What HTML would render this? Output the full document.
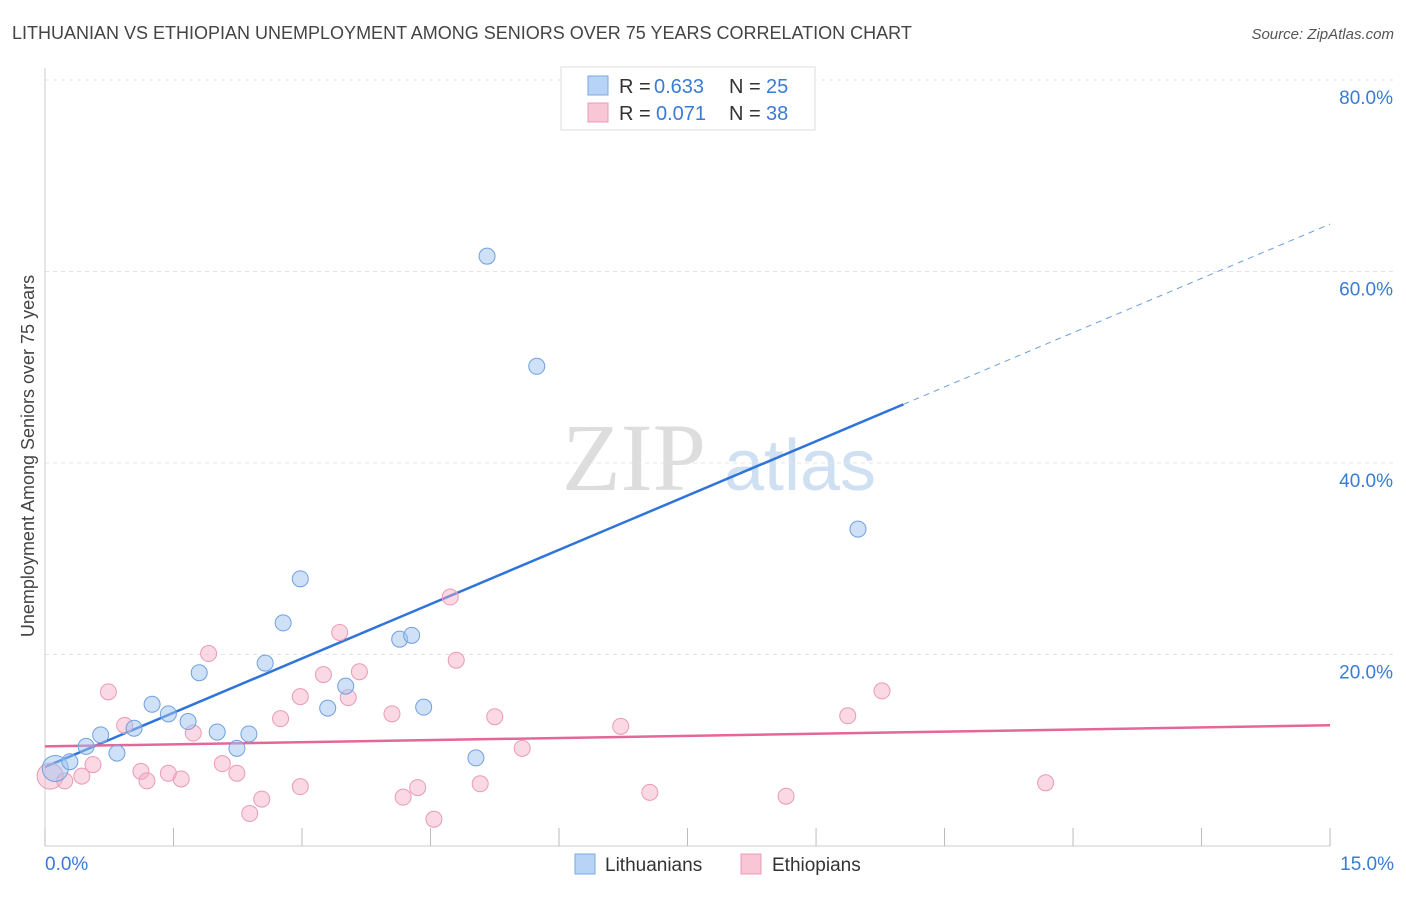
<!DOCTYPE html>
<html><head><meta charset="utf-8"><style>
body{margin:0;background:#fff;font-family:"Liberation Sans",sans-serif;}
</style></head><body>
<svg width="1406" height="892" xmlns="http://www.w3.org/2000/svg" id="chart">
<text x="12" y="39" font-size="18" fill="#444">LITHUANIAN VS ETHIOPIAN UNEMPLOYMENT AMONG SENIORS OVER 75 YEARS CORRELATION CHART</text>
<text x="1394" y="39" font-size="15" fill="#555" font-style="italic" text-anchor="end">Source: ZipAtlas.com</text>
<g>
<text x="634" y="490" font-size="96" fill="#ddd" font-family="Liberation Serif,serif" text-anchor="middle">ZIP</text>
<text x="800" y="490" font-size="72" fill="#cfe0f3" text-anchor="middle">atlas</text>
</g>
<g id="grid"></g>
<g id="axes"></g>
<g id="lines"></g>
<g id="points"></g>
<text transform="translate(34,456) rotate(-90)" font-size="18" fill="#444" text-anchor="middle">Unemployment Among Seniors over 75 years</text>
<g>
<rect x="561" y="67" width="254" height="63" fill="#fff" stroke="#ddd"/>
<rect x="588" y="76" width="20" height="19" fill="#b7d3f5" stroke="#7aa8e0"/>
<text x="619" y="93" font-size="20" fill="#333">R =</text>
<text x="654" y="93" font-size="20" fill="#3a7bd5">0.633</text>
<text x="729" y="93" font-size="20" fill="#333">N =</text>
<text x="766" y="93" font-size="20" fill="#3a7bd5">25</text>
<rect x="588" y="103" width="20" height="19" fill="#f9c6d6" stroke="#e99ab4"/>
<text x="619" y="120" font-size="20" fill="#333">R =</text>
<text x="656" y="120" font-size="20" fill="#3a7bd5">0.071</text>
<text x="729" y="120" font-size="20" fill="#333">N =</text>
<text x="766" y="120" font-size="20" fill="#3a7bd5">38</text>
</g>
<g>
<rect x="575" y="854" width="20" height="20" fill="#b7d3f5" stroke="#7aa8e0"/>
<text x="605" y="871" font-size="19" fill="#333">Lithuanians</text>
<rect x="741" y="854" width="20" height="20" fill="#f9c6d6" stroke="#e99ab4"/>
<text x="772" y="871" font-size="19" fill="#333">Ethiopians</text>
</g>
</svg>
<script>
const blueX=[0.12,0.29,0.48,0.65,0.84,1.04,1.25,1.44,1.67,1.80,2.01,2.24,2.38,2.57,2.78,2.98,3.30,3.51,4.14,4.28,4.42,5.03,5.16,5.74,9.49];
const blueY=[8.1,8.8,10.4,11.6,9.7,12.3,14.8,13.8,13.0,18.1,11.9,10.2,11.7,19.1,23.3,27.9,14.4,16.7,21.6,22.0,14.5,9.2,61.6,50.1,33.1];
const pinkX=[0.06,0.23,0.43,0.56,0.74,0.93,1.12,1.19,1.44,1.59,1.73,1.91,2.07,2.24,2.39,2.53,2.75,2.98,2.98,3.25,3.44,3.54,3.67,4.05,4.18,4.35,4.54,4.73,4.80,5.08,5.25,5.57,6.72,7.06,8.65,9.37,9.77,11.68];
const pinkY=[7.3,6.8,7.3,8.5,16.1,12.6,7.8,6.8,7.6,7.0,11.8,20.1,8.6,7.6,3.4,4.9,13.3,15.6,6.2,17.9,22.3,15.5,18.2,13.8,5.1,6.1,2.8,26.0,19.4,6.5,13.5,10.2,12.5,5.6,5.2,13.6,16.2,6.6];
const blueTrend=[8.25,3.78];
const pinkTrend=[10.4,0.147];
const yTicks=[20,40,60,80];
const yTickLabels=["20.0%","40.0%","60.0%","80.0%"];
const xTicks=[0,1.5,3,4.5,6,7.5,9,10.5,12,13.5,15];
const NS="http://www.w3.org/2000/svg";
const sx=v=>45+v*85.67, sy=v=>846-v*9.575;
function mk(tag,attrs,parent){const e=document.createElementNS(NS,tag);for(const k in attrs)e.setAttribute(k,attrs[k]);document.getElementById(parent).appendChild(e);return e;}
yTicks.forEach((t,i)=>{
 const g=mk('line',{x1:45,x2:1394,y1:sy(t),y2:sy(t),stroke:'#e4e4e4','stroke-dasharray':'4,4'},'grid');
 
 
 const l=mk('text',{x:1393,y:sy(t)+24,'font-size':19,fill:'#3a7bd5','text-anchor':'end'},'grid');l.textContent=yTickLabels[i];
 
 
});
mk('line',{x1:45,x2:45,y1:68,y2:846,stroke:'#ccc'},'axes');
mk('line',{x1:45,x2:1330,y1:846,y2:846,stroke:'#ccc'},'axes');
xTicks.forEach(t=>{const e=mk('line',{x1:sx(t),x2:sx(t),y1:828,y2:846,stroke:'#bbb'},'axes');
 
 });
let a=mk('text',{x:45,y:870,'font-size':19,fill:'#3a7bd5'},'axes');a.textContent='0.0%';


a=mk('text',{x:1394,y:870,'font-size':19,fill:'#3a7bd5','text-anchor':'end'},'axes');a.textContent='15.0%';


pinkX.forEach((x,i)=>{const c=mk('circle',{cx:sx(x),cy:sy(pinkY[i]),r:i==0?13:8,fill:'rgba(245,170,195,0.45)',stroke:'#eb9ab5','stroke-width':1},'points');
 
 });
blueX.forEach((x,i)=>{const c=mk('circle',{cx:sx(x),cy:sy(blueY[i]),r:i==0?13:8,fill:'rgba(160,195,240,0.5)',stroke:'#6fa0e0','stroke-width':1},'points');
 
 });
let ln=mk('line',{x1:sx(0),y1:sy(blueTrend[0]),x2:sx(10.02),y2:sy(blueTrend[0]+blueTrend[1]*10.02),stroke:'#2f74d8','stroke-width':2.5},'lines');


ln=mk('line',{x1:sx(10.02),y1:sy(blueTrend[0]+blueTrend[1]*10.02),x2:sx(15),y2:sy(blueTrend[0]+blueTrend[1]*15),stroke:'#6b9fe0','stroke-width':1,'stroke-dasharray':'6,5'},'lines');


ln=mk('line',{x1:sx(0),y1:sy(pinkTrend[0]),x2:sx(15),y2:sy(pinkTrend[0]+pinkTrend[1]*15),stroke:'#e5679a','stroke-width':2.5},'lines');


</script>
</body></html>
